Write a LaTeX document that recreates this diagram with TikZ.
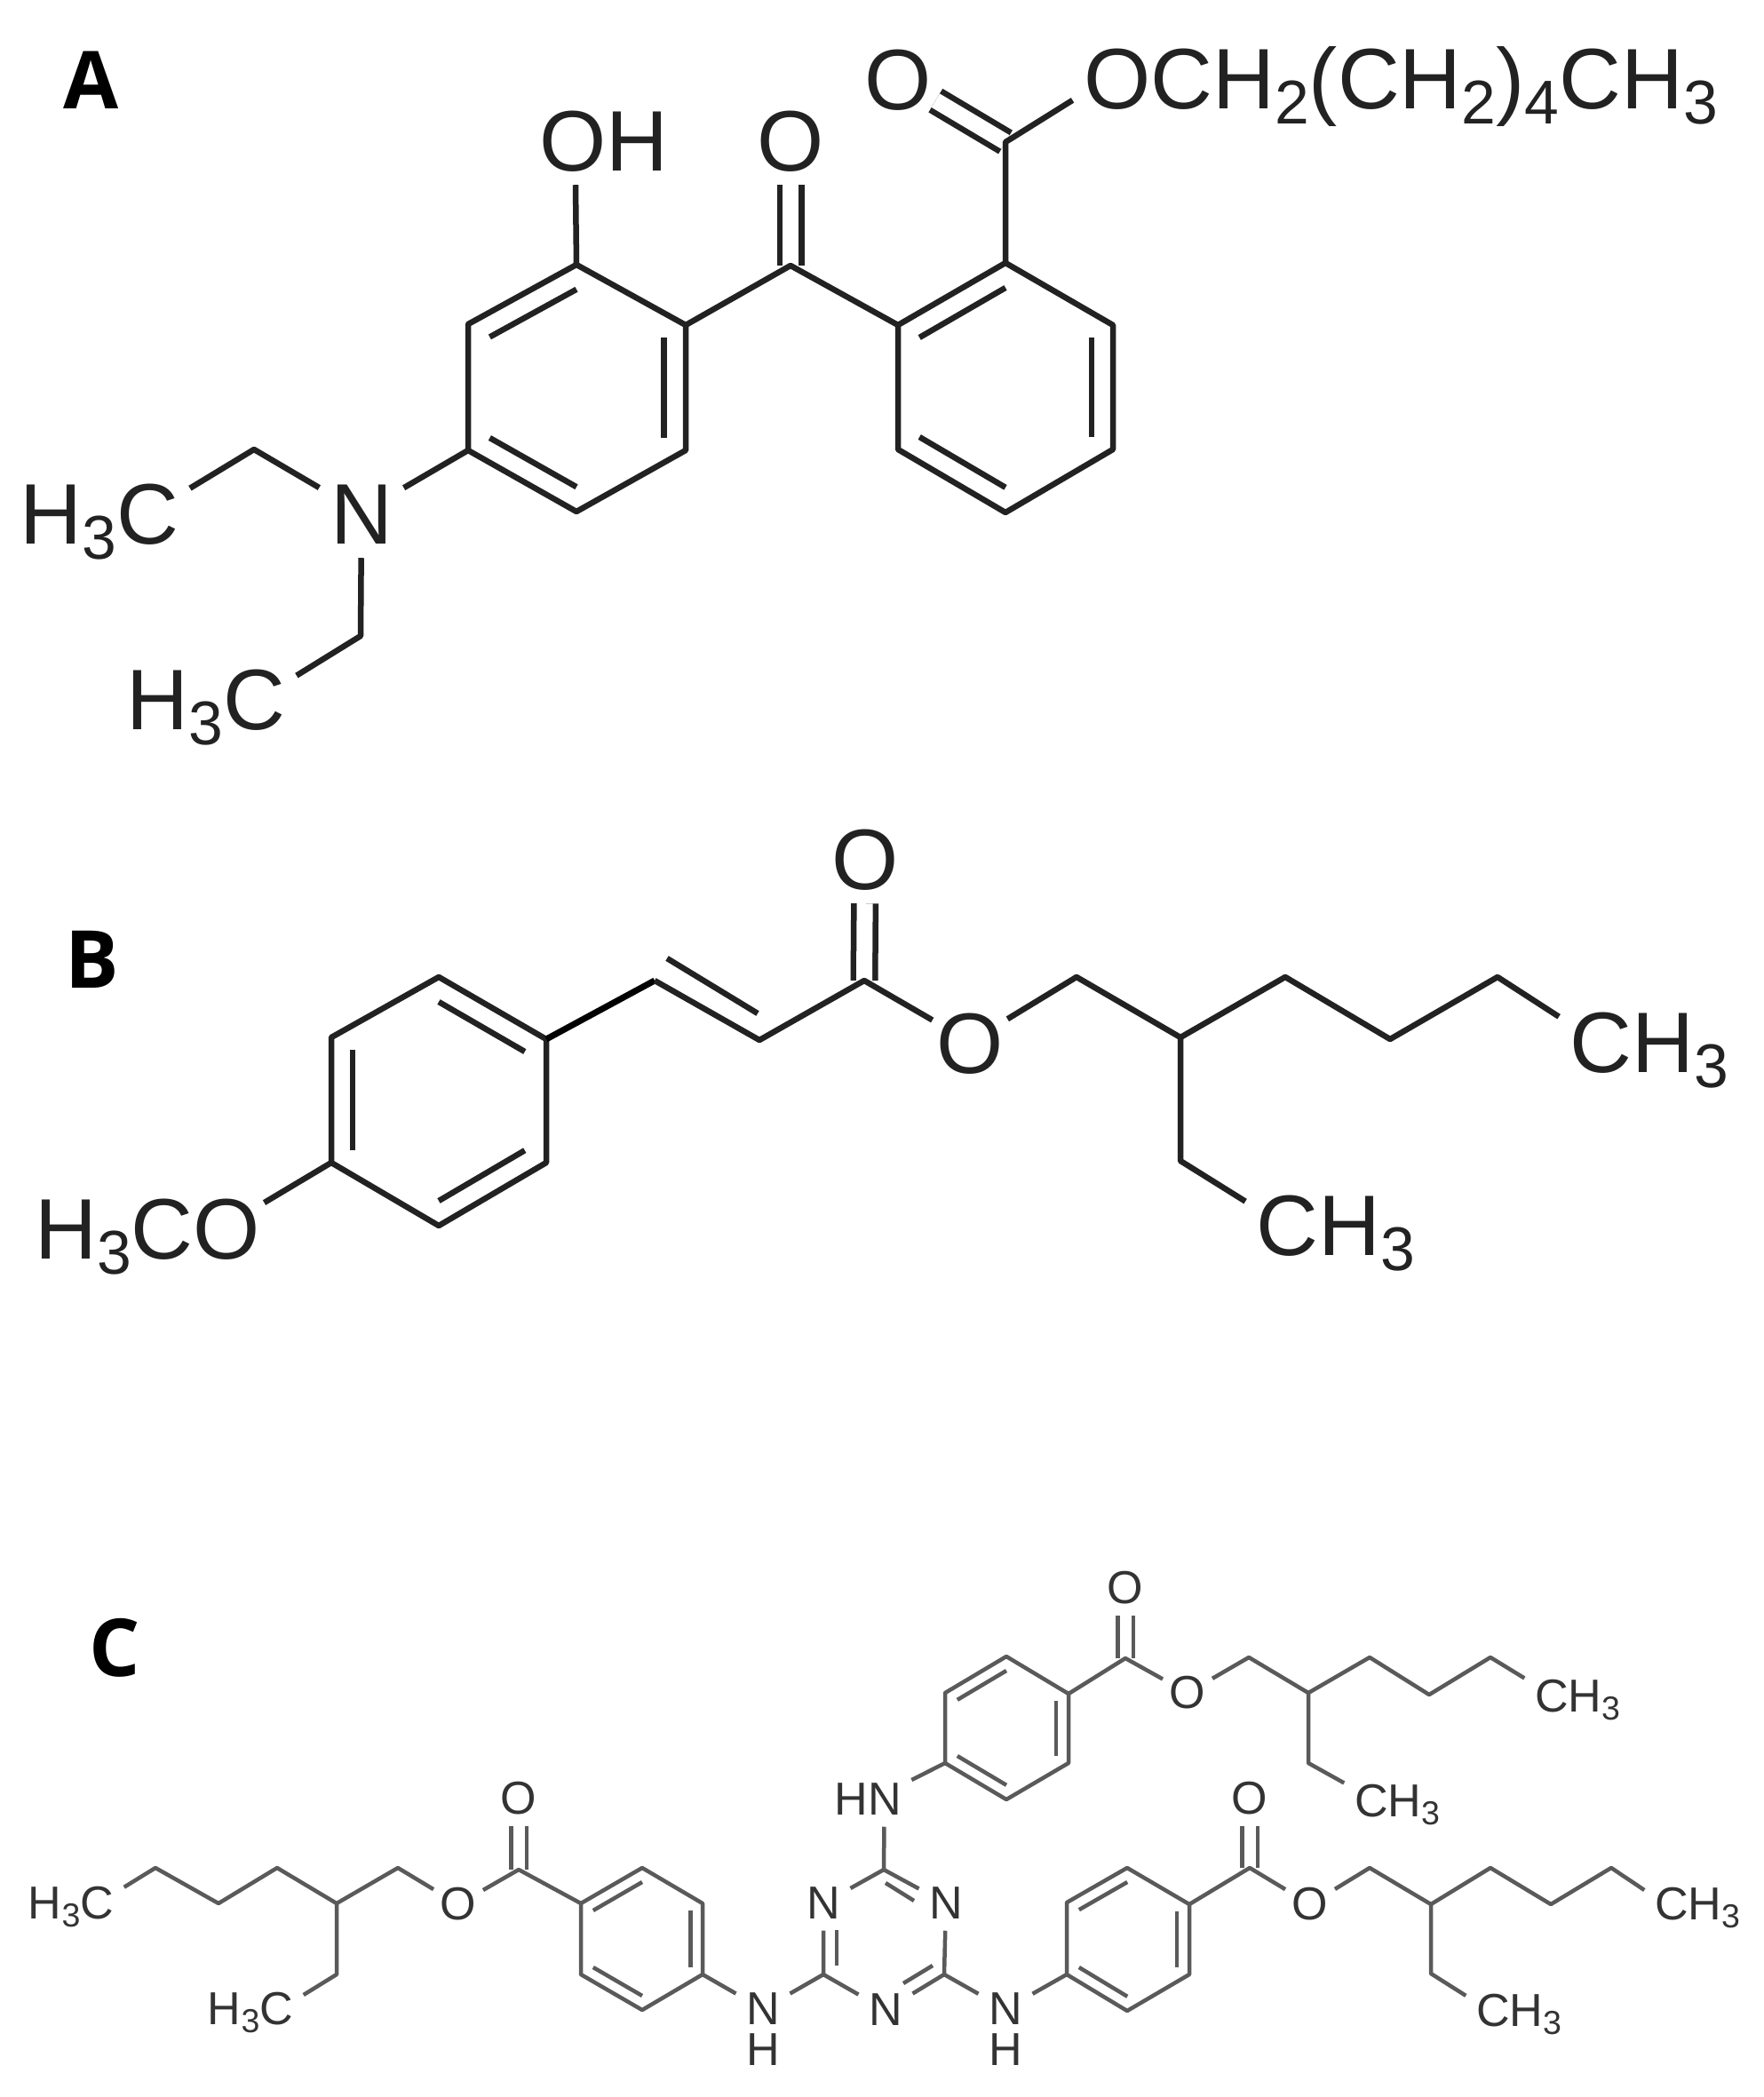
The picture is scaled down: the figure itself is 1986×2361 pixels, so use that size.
\documentclass[tikz,border=0pt]{standalone}
\usepackage{fontspec}
\setmainfont{Liberation Sans}
\newfontfamily\tagfont{Open Sans}
\usetikzlibrary{calc}
\definecolor{inkdark}{HTML}{222222}
\definecolor{inkgrey}{HTML}{5A5A5A}
\definecolor{textgrey}{HTML}{333333}
\newcommand{\low}[1]{\raisebox{-.18em}{\scalebox{.72}{#1}}}
\tikzset{
    tag/.style = {font=\tagfont\bfseries\fontsize{25.6}{30}\selectfont, text=black, inner sep=0pt},
    atombig/.style = {font=\fontsize{27.5}{32}\selectfont, text=inkdark, text height=.71cm, text depth=0pt, inner xsep=.12cm, inner ysep=.15cm},
    oxbig/.style = {atombig, inner xsep=.04cm},
    atomsmall/.style = {font=\fontsize{14.8}{16}\selectfont, text=textgrey, text height=.35cm, text depth=0pt, inner xsep=.11cm, inner ysep=.125cm},
    oxsmall/.style = {atomsmall, inner xsep=.07cm},
    bond/.style = {line width=.065cm, inkdark, line join=round},
    dblbond/.style = {bond, double=white, double distance=.18cm},
    thin bond/.style = {line width=.045cm, inkgrey, line join=round},
    thin dbl/.style = {thin bond, double=white, double distance=.13cm},
}
\begin{document}
\begin{tikzpicture}[x=.01cm, y=-.01cm]
    \useasboundingbox (0,0) rectangle (1986,2361);

    \node[tag] (tagA) at (103,90) {A};
    \node[tag] (tagB) at (104,1080) {B};
    \node[tag] (tagC) at (129,1855) {C};

    \coordinate (p0) at (649,437);
    \coordinate (p1) at (649,298);
    \coordinate (p2) at (772,366);
    \coordinate (p3) at (772,507);
    \coordinate (p4) at (649,576);
    \coordinate (p5) at (527,507);
    \coordinate (p6) at (527,365);
    \coordinate (q0) at (1132,436);
    \coordinate (q1) at (1132,296);
    \coordinate (q2) at (1253,366);
    \coordinate (q3) at (1253,506);
    \coordinate (q4) at (1132,577);
    \coordinate (q5) at (1011,506);
    \coordinate (q6) at (1011,366);
    \coordinate (keto) at (890,299);
    \coordinate (ester) at (1132,160);
    \coordinate (et1) at (286,506);
    \coordinate (et2) at (406,716);
    \node[atombig] (nitro) at (407,577) {N};
    \node[atombig] (hydroxy) at (680,157) {OH};
    \node[oxbig] (oketo) at (890,157) {O};
    \node[oxbig] (oester) at (1011,88) {O};
    \node[atombig] (tail) at (1577,87) {OCH\low{2}(CH\low{2})\low{4}CH\low{3}};
    \node[atombig] (methyl1) at (112,577) {H\low{3}C};
    \node[atombig] (methyl2) at (232,786) {H\low{3}C};

    \draw[dblbond] (oketo) -- (keto);
    \draw[dblbond] (oester) -- (ester);
    \draw[bond] (p1) -- (p2) -- (p3) -- (p4) -- (p5) -- (p6) -- cycle;
    \draw[bond] (q1) -- (q2) -- (q3) -- (q4) -- (q5) -- (q6) -- cycle;
    \foreach \a/\b/\c in {p1/p6/p0, p2/p3/p0, p4/p5/p0, q1/q6/q0, q2/q3/q0, q4/q5/q0}
        \draw[bond] ($(\a)!.2!(\c)$) -- ($(\b)!.2!(\c)$);
    \draw[bond] (hydroxy.238) -- (p1);
    \draw[bond] (p2) -- (keto) -- (q6);
    \draw[bond] (q1) -- (ester) -- (tail.184);
    \draw[bond] (p5) -- (nitro);
    \draw[bond] (nitro) -- (et1) -- (methyl1.15);
    \draw[bond] (nitro) -- (et2) -- (methyl2.14);

    \coordinate (s0) at (494,1240);
    \coordinate (s1) at (494,1100);
    \coordinate (s2) at (615,1170);
    \coordinate (s3) at (615,1309);
    \coordinate (s4) at (494,1380);
    \coordinate (s5) at (373,1309);
    \coordinate (s6) at (373,1168);
    \coordinate (v1) at (737,1104);
    \coordinate (v2) at (855,1171);
    \coordinate (v3) at (751,1079);
    \coordinate (v4) at (853,1141);
    \coordinate (ketoB) at (973,1104);
    \coordinate (b1) at (1212,1100);
    \coordinate (b2) at (1329,1168);
    \coordinate (b3) at (1447,1100);
    \coordinate (b4) at (1565,1170);
    \coordinate (b5) at (1686,1100);
    \coordinate (b6) at (1329,1307);
    \node[oxbig] (oketoB) at (974,966) {O};
    \node[oxbig] (oesterB) at (1092,1173) {O};
    \node[oxbig] (methoxy) at (166,1382) {H\low{3}CO};
    \node[atombig] (methyl3) at (1857,1172) {CH\low{3}};
    \node[atombig] (methyl4) at (1504,1378) {CH\low{3}};

    \draw[dblbond] (oketoB) -- (ketoB);
    \draw[bond] (s1) -- (s2) -- (s3) -- (s4) -- (s5) -- (s6) -- cycle;
    \foreach \a/\b/\c in {s1/s2/s0, s5/s6/s0, s4/s3/s0}
        \draw[bond] ($(\a)!.2!(\c)$) -- ($(\b)!.2!(\c)$);
    \draw[line width=.07cm, black] (s2) -- (v1);
    \draw[bond] (v1) -- (v2) -- (ketoB) -- (oesterB);
    \draw[bond] (v3) -- (v4);
    \draw[bond] (oesterB) -- (b1) -- (b2) -- (b3) -- (b4) -- (b5) -- (methyl3.165);
    \draw[bond] (b2) -- (b6) -- (methyl4.166);
    \draw[bond] (methoxy.12) -- (s5);

    \coordinate (t0) at (1133,1945);
    \coordinate (t1) at (1133,1865);
    \coordinate (t2) at (1203,1907);
    \coordinate (t3) at (1203,1985);
    \coordinate (t4) at (1133,2026);
    \coordinate (t5) at (1064,1985);
    \coordinate (t6) at (1064,1906);
    \coordinate (ketoT) at (1267,1867);
    \coordinate (c1) at (1406,1866);
    \coordinate (c2) at (1473,1906);
    \coordinate (c3) at (1542,1866);
    \coordinate (c4) at (1609,1908);
    \coordinate (c5) at (1678,1866);
    \coordinate (c6) at (1473,1985);
    \node[oxsmall] (oketoT) at (1267,1788) {O};
    \node[oxsmall] (oesterT) at (1337,1906) {O};
    \node[atomsmall] (methyl5) at (1776,1910) {CH\low{3}};
    \node[atomsmall] (methyl6) at (1573,2028) {CH\low{3}};
    \node[atomsmall] (aminoT) at (977,2026) {HN};

    \coordinate (u0) at (723,2183);
    \coordinate (u1) at (723,2103);
    \coordinate (u2) at (791,2143);
    \coordinate (u3) at (791,2223);
    \coordinate (u4) at (723,2263);
    \coordinate (u5) at (654,2223);
    \coordinate (u6) at (654,2143);
    \coordinate (ketoL) at (584,2105);
    \coordinate (d1) at (448,2103);
    \coordinate (d2) at (379,2143);
    \coordinate (d3) at (312,2103);
    \coordinate (d4) at (246,2143);
    \coordinate (d5) at (175,2103);
    \coordinate (d6) at (379,2223);
    \node[oxsmall] (oketoL) at (584,2025) {O};
    \node[oxsmall] (oesterL) at (516,2144) {O};
    \node[atomsmall] (methyl7) at (80,2143) {H\low{3}C};
    \node[atomsmall] (methyl8) at (282,2262) {H\low{3}C};
    \node[atomsmall] (aminoL) at (859,2262) {N};
    \node[atomsmall] (hydroL) at (859,2308) {H};

    \coordinate (w0) at (1270,2183);
    \coordinate (w1) at (1269,2103);
    \coordinate (w2) at (1339,2144);
    \coordinate (w3) at (1339,2223);
    \coordinate (w4) at (1269,2264);
    \coordinate (w5) at (1201,2223);
    \coordinate (w6) at (1201,2142);
    \coordinate (ketoR) at (1407,2103);
    \coordinate (e1) at (1542,2103);
    \coordinate (e2) at (1611,2144);
    \coordinate (e3) at (1678,2103);
    \coordinate (e4) at (1746,2144);
    \coordinate (e5) at (1814,2103);
    \coordinate (e6) at (1611,2222);
    \node[oxsmall] (oketoR) at (1407,2025) {O};
    \node[oxsmall] (oesterR) at (1475,2144) {O};
    \node[atomsmall] (methyl9) at (1911,2144) {CH\low{3}};
    \node[atomsmall] (methyl10) at (1710,2264) {CH\low{3}};
    \node[atomsmall] (aminoR) at (1132,2262) {N};
    \node[atomsmall] (hydroR) at (1132,2308) {H};

    \coordinate (z1) at (995,2105);
    \coordinate (z2) at (927,2223);
    \coordinate (z3) at (1063,2223);
    \coordinate (i1) at (997,2120);
    \coordinate (i2) at (1029,2140);
    \coordinate (i3) at (942,2173);
    \coordinate (i4) at (942,2213);
    \coordinate (i5) at (1017,2233);
    \coordinate (i6) at (1050,2213);
    \node[atomsmall] (nz1) at (927,2143) {N};
    \node[atomsmall] (nz2) at (1065,2143) {N};
    \node[atomsmall] (nz3) at (997,2263) {N};

    \draw[thin dbl] (oketoT) -- (ketoT);
    \draw[thin dbl] (oketoL) -- (ketoL);
    \draw[thin dbl] (oketoR) -- (ketoR);
    \draw[thin bond] (t1) -- (t2) -- (t3) -- (t4) -- (t5) -- (t6) -- cycle;
    \draw[thin bond] (u1) -- (u2) -- (u3) -- (u4) -- (u5) -- (u6) -- cycle;
    \draw[thin bond] (w1) -- (w2) -- (w3) -- (w4) -- (w5) -- (w6) -- cycle;
    \foreach \a/\b/\c in {t1/t6/t0, t2/t3/t0, t4/t5/t0, u1/u6/u0, u2/u3/u0, u4/u5/u0, w1/w6/w0, w2/w3/w0, w4/w5/w0}
        \draw[thin bond] ($(\a)!.2!(\c)$) -- ($(\b)!.2!(\c)$);

    \draw[thin bond] (t2) -- (ketoT) -- (oesterT) -- (c1) -- (c2) -- (c3) -- (c4) -- (c5) -- (methyl5.161);
    \draw[thin bond] (c2) -- (c6) -- (methyl6.161);
    \draw[thin bond] (t5) -- (aminoT.24);
    \draw[thin bond] (aminoT.301) -- (z1);

    \draw[thin bond] (u6) -- (ketoL) -- (oesterL) -- (d1) -- (d2) -- (d3) -- (d4) -- (d5) -- (methyl7.17);
    \draw[thin bond] (d2) -- (d6) -- (methyl8.15);
    \draw[thin bond] (u3) -- (aminoL) -- (z2);

    \draw[thin bond] (w2) -- (ketoR) -- (oesterR) -- (e1) -- (e2) -- (e3) -- (e4) -- (e5) -- (methyl9.165);
    \draw[thin bond] (e2) -- (e6) -- (methyl10.164);
    \draw[thin bond] (w5) -- (aminoR) -- (z3);

    \draw[thin bond] (nz1) -- (z1) -- (nz2);
    \draw[thin bond] (nz1) -- (z2) -- (nz3) -- (z3) -- (nz2);
    \draw[thin bond] (i1) -- (i2);
    \draw[thin bond] (i3) -- (i4);
    \draw[thin bond] (i5) -- (i6);
\end{tikzpicture}
\end{document}
